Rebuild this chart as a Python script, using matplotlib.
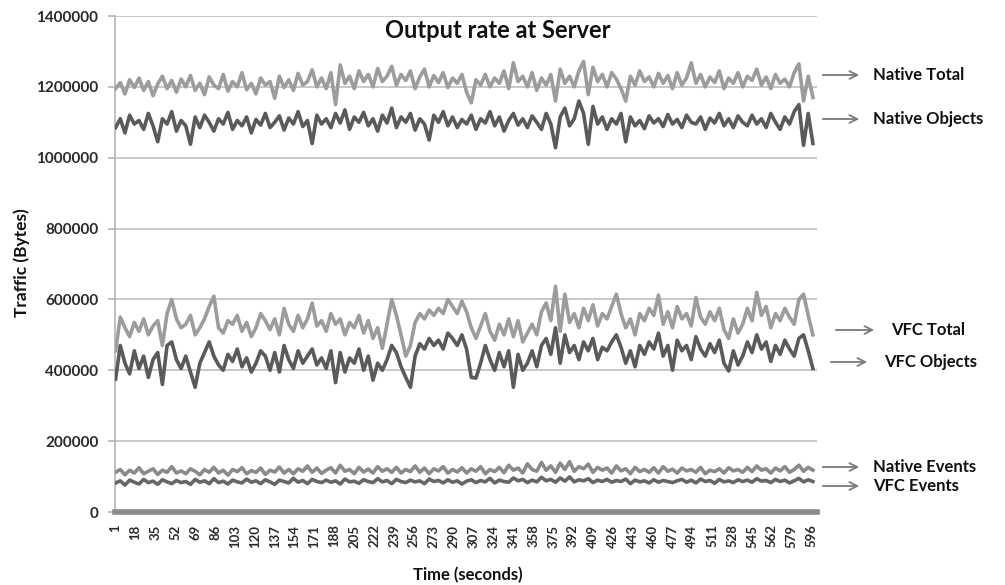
import matplotlib
matplotlib.use("Agg")
import matplotlib.pyplot as plt

# ---------------------------------------------------------
# 1. Data (in kB, every 4 seconds)
# ---------------------------------------------------------

seconds = list(range(1, 601, 4))

native_total_k = [
    1195, 1212, 1180, 1220, 1198, 1225, 1190, 1215, 1175, 1208, 1230, 1195, 1218, 1185, 1222,
    1200, 1232, 1190, 1210, 1178, 1228, 1205, 1195, 1235, 1188, 1215, 1200, 1240, 1192, 1210,
    1180, 1225, 1205, 1215, 1168, 1230, 1198, 1220, 1190, 1238, 1205, 1215, 1248, 1200, 1225,
    1195, 1240, 1150, 1262, 1210, 1230, 1195, 1245, 1215, 1235, 1200, 1252, 1215, 1230, 1258,
    1205, 1235, 1218, 1245, 1195, 1228, 1250, 1200, 1232, 1212, 1240, 1198, 1225, 1210, 1235,
    1185, 1155, 1220, 1205, 1235, 1200, 1225, 1210, 1245, 1195, 1268, 1215, 1230, 1200, 1240,
    1190, 1225, 1205, 1235, 1160, 1250, 1210, 1230, 1200, 1245, 1272, 1178, 1255, 1215, 1235,
    1200, 1240, 1222, 1195, 1160, 1230, 1205, 1245, 1215, 1228, 1200, 1238, 1210, 1232, 1195,
    1240, 1205, 1225, 1268, 1210, 1235, 1200, 1228, 1212, 1245, 1195, 1225, 1210, 1240, 1200,
    1230, 1218, 1250, 1205, 1228, 1195, 1235, 1210, 1222, 1200, 1240, 1265, 1160, 1230, 1170,
]

native_objects_k = [
    1085, 1110, 1070, 1120, 1095, 1105, 1080, 1125, 1090, 1045, 1110, 1095, 1130, 1075, 1105,
    1090, 1038, 1115, 1085, 1120, 1100, 1075, 1110, 1095, 1128, 1080, 1105, 1090, 1115, 1070,
    1108, 1092, 1125, 1085, 1100, 1118, 1078, 1112, 1095, 1130, 1088, 1105, 1040, 1120, 1095,
    1110, 1085, 1125, 1098, 1135, 1080, 1115, 1100, 1128, 1090, 1110, 1075, 1120, 1098, 1140,
    1085, 1115, 1100, 1125, 1078, 1110, 1095, 1050, 1120, 1100, 1130, 1090, 1115, 1085, 1108,
    1095, 1120, 1080, 1110, 1098, 1130, 1090, 1115, 1075, 1105, 1125, 1092, 1110, 1085, 1118,
    1100, 1080, 1125, 1095, 1028, 1115, 1140, 1090, 1110, 1160, 1125, 1038, 1145, 1095, 1115,
    1080, 1110, 1095, 1125, 1045, 1115, 1090, 1105, 1082, 1118, 1098, 1110, 1088, 1122, 1095,
    1108, 1085, 1120, 1100, 1095, 1115, 1080, 1112, 1098, 1125, 1090, 1110, 1085, 1118, 1100,
    1090, 1120, 1095, 1110, 1085, 1125, 1100, 1080, 1115, 1095, 1130, 1150, 1035, 1125, 1040,
]

vfc_total_k = [
    455, 550, 520, 495, 535, 510, 545, 500, 525, 540, 470, 560, 600, 545, 520,
    530, 555, 500, 520, 545, 580, 609, 520, 505, 540, 530, 555, 510, 535, 495,
    520, 560, 540, 515, 545, 500, 575, 530, 510, 555, 520, 545, 590, 525, 540,
    510, 560, 530, 545, 500, 535, 520, 555, 505, 540, 490, 520, 462, 530, 600,
    555, 500, 440, 470, 535, 560, 545, 570, 555, 575, 560, 600, 580, 560, 595,
    565, 520, 490, 525, 560, 510, 485, 530, 500, 545, 495, 540, 480, 505, 530,
    500, 565, 590, 540, 637, 510, 615, 535, 560, 520, 575, 540, 585, 525, 560,
    545, 580, 615, 560, 520, 545, 500, 560, 540, 575, 555, 612, 530, 565, 520,
    580, 545, 560, 525, 605, 550, 530, 565, 540, 575, 515, 490, 545, 505, 530,
    575, 540, 620, 555, 580, 520, 560, 540, 575, 550, 530, 600, 615, 555, 500,
]

vfc_objects_k = [
    375, 470, 420, 390, 455, 405, 440, 380, 430, 450, 360, 470, 480, 430, 405,
    440, 395, 352, 420, 450, 480, 440, 415, 400, 445, 425, 460, 410, 435, 395,
    420, 455, 440, 400, 450, 395, 470, 430, 405, 455, 420, 440, 460, 415, 435,
    405, 455, 365, 450, 395, 435, 420, 460, 400, 440, 372, 420, 400, 430, 470,
    450, 410, 380, 352, 440, 475, 460, 490, 470, 485, 460, 505, 490, 470, 500,
    460, 380, 378, 420, 470, 430, 400, 450, 410, 455, 352, 445, 400, 420, 455,
    410, 470, 490, 445, 520, 420, 500, 450, 470, 430, 480, 455, 490, 430, 465,
    455, 480, 500, 465, 420, 455, 410, 470, 445, 480, 460, 505, 440, 470, 400,
    485, 455, 470, 430, 495, 460, 440, 475, 450, 485, 420, 398, 455, 415, 440,
    480, 450, 500, 460, 480, 425, 470, 445, 485, 460, 440, 490, 500, 455, 405,
]

native_events_k = [
    112, 120, 105, 118, 110, 125, 108, 115, 122, 106, 118, 112, 128, 110, 116,
    108, 122, 115, 105, 120, 112, 126, 110, 118, 104, 120, 114, 125, 108, 117,
    112, 124, 106, 118, 113, 127, 110, 120, 108, 122, 115, 130, 112, 124, 109,
    118, 125, 110, 132, 115, 120, 108, 126, 113, 121, 110, 128, 115, 122, 112,
    126, 110, 120, 114, 130, 112, 124, 108, 122, 116, 128, 110, 120, 113, 125,
    110, 122, 115, 128, 108, 120, 114, 126, 111, 132, 118, 124, 110, 136, 120,
    115, 140, 118, 130, 112, 138, 120, 142, 115, 128, 122, 135, 112, 126, 118,
    124, 110, 130, 116, 122, 108, 126, 114, 120, 112, 125, 110, 128, 115, 121,
    110, 124, 116, 120, 112, 126, 108, 118, 114, 122, 110, 125, 116, 120, 112,
    126, 114, 130, 118, 122, 110, 124, 116, 128, 112, 120, 132, 115, 126, 118,
]

vfc_events_k = [
    82, 88, 76, 90, 84, 79, 92, 83, 87, 78, 91, 85, 80, 89, 83,
    86, 78, 92, 84, 88, 80, 94, 83, 87, 79, 90, 85, 82, 93, 84,
    88, 80, 91, 85, 78, 90, 86, 82, 95, 84, 89, 80, 92, 86, 83,
    90, 84, 88, 79, 93, 85, 87, 81, 91, 86, 83, 94, 85, 89, 80,
    92, 86, 83, 90, 85, 88, 80, 93, 86, 89, 82, 91, 84, 88, 79,
    87, 91, 83, 89, 85, 95, 82, 90, 86, 84, 96, 88, 92, 83, 90,
    85, 98, 88, 92, 84, 96, 87, 99, 85, 91, 88, 94, 83, 90, 86,
    92, 84, 89, 86, 93, 80, 90, 85, 88, 82, 91, 84, 89, 86, 83,
    88, 92, 84, 90, 82, 93, 86, 89, 81, 92, 85, 88, 83, 91, 86,
    90, 84, 94, 87, 89, 83, 92, 86, 90, 82, 88, 95, 85, 91, 86,
]

series_names = ["Native Total", "Native Objects", "VFC Total",
                "VFC Objects", "Native Events", "VFC Events"]
x_tick_values = list(range(1, 600, 17))
y_tick_values = list(range(0, 1400001, 200000))

# ---------------------------------------------------------
# 2. Figure setup
# ---------------------------------------------------------

plt.rcParams["font.family"] = ["Lato", "DejaVu Sans"]

W, H = 1005, 585
fig = plt.figure(figsize=(W / 100, H / 100), dpi=100)
ax = fig.add_axes([115 / W, 1 - 512 / H, (817 - 115) / W, (512 - 16) / H])

light = "#9c9c9c"
dark = "#5a5a5a"
series = [
    (native_total_k, light),
    (native_objects_k, dark),
    (vfc_total_k, light),
    (vfc_objects_k, dark),
    (native_events_k, "#8a8a8a"),
    (vfc_events_k, "#666666"),
]

for i, (vals, col) in enumerate(series):
    ax.plot(seconds, [v * 1000 for v in vals], color=col, lw=2.6,
            solid_joinstyle="round", label=series_names[i], zorder=3)

ax.set_xlim(0.5, 600.5)
ax.set_ylim(0, 1400000)
ax.set_yticks(y_tick_values)
ax.set_yticklabels([str(v) for v in y_tick_values])
ax.set_xticks(x_tick_values)
ax.set_xticklabels([str(v) for v in x_tick_values], rotation=90)

ax.grid(axis="y", color="#c4c4c4", lw=1.3, zorder=0)
ax.set_axisbelow(True)
for s in ["top", "right"]:
    ax.spines[s].set_visible(False)
ax.spines["left"].set_color("#b4b4b4")
ax.spines["left"].set_linewidth(1.2)
ax.spines["bottom"].set_color("#8a8a8a")
ax.spines["bottom"].set_linewidth(4)
ax.spines["bottom"].set_zorder(4)

ax.tick_params(axis="y", length=5, width=1.2, color="#b4b4b4", pad=7,
               labelsize=11, labelcolor="#2a2a2a")
ax.tick_params(axis="x", length=0, pad=9, labelsize=9.5, labelcolor="#2a2a2a")
for lab in ax.get_yticklabels() + ax.get_xticklabels():
    lab.set_fontweight("bold")

# ---------------------------------------------------------
# 3. Labels, title and arrow annotations
# ---------------------------------------------------------

fig.text(498 / W, 1 - 30 / H, "Output rate at Server", ha="center", va="center",
         fontsize=17, fontweight="bold", color="#111111")
fig.text(22 / W, 1 - 263 / H, "Traffic (Bytes)", rotation=90, ha="center",
         va="center", fontsize=12.5, fontweight="bold", color="#111111")
fig.text(468 / W, 1 - 575 / H, "Time (seconds)", ha="center", va="center",
         fontsize=12, fontweight="bold", color="#111111")

# (label, arrow start x, arrow end x, text x, y) in pixels
labels = [
    (series_names[0], 820, 862, 873, 75),
    (series_names[1], 820, 862, 873, 119),
    (series_names[2], 833, 877, 891, 330),
    (series_names[3], 828, 870, 884, 362),
    (series_names[4], 820, 862, 873, 467),
    (series_names[5], 820, 862, 873, 486),
]
for name, x0, x1, tx, ty in labels:
    fig.patches.append(matplotlib.patches.FancyArrowPatch(
        (x0 / W, 1 - ty / H), (x1 / W, 1 - ty / H), transform=fig.transFigure,
        arrowstyle="->", mutation_scale=14, color="#7a7a7a", lw=1.3))
    fig.text(tx / W, 1 - ty / H, name, ha="left", va="center",
             fontsize=12, fontweight="bold", color="#111111")

fig.savefig("out.png", dpi=100)
